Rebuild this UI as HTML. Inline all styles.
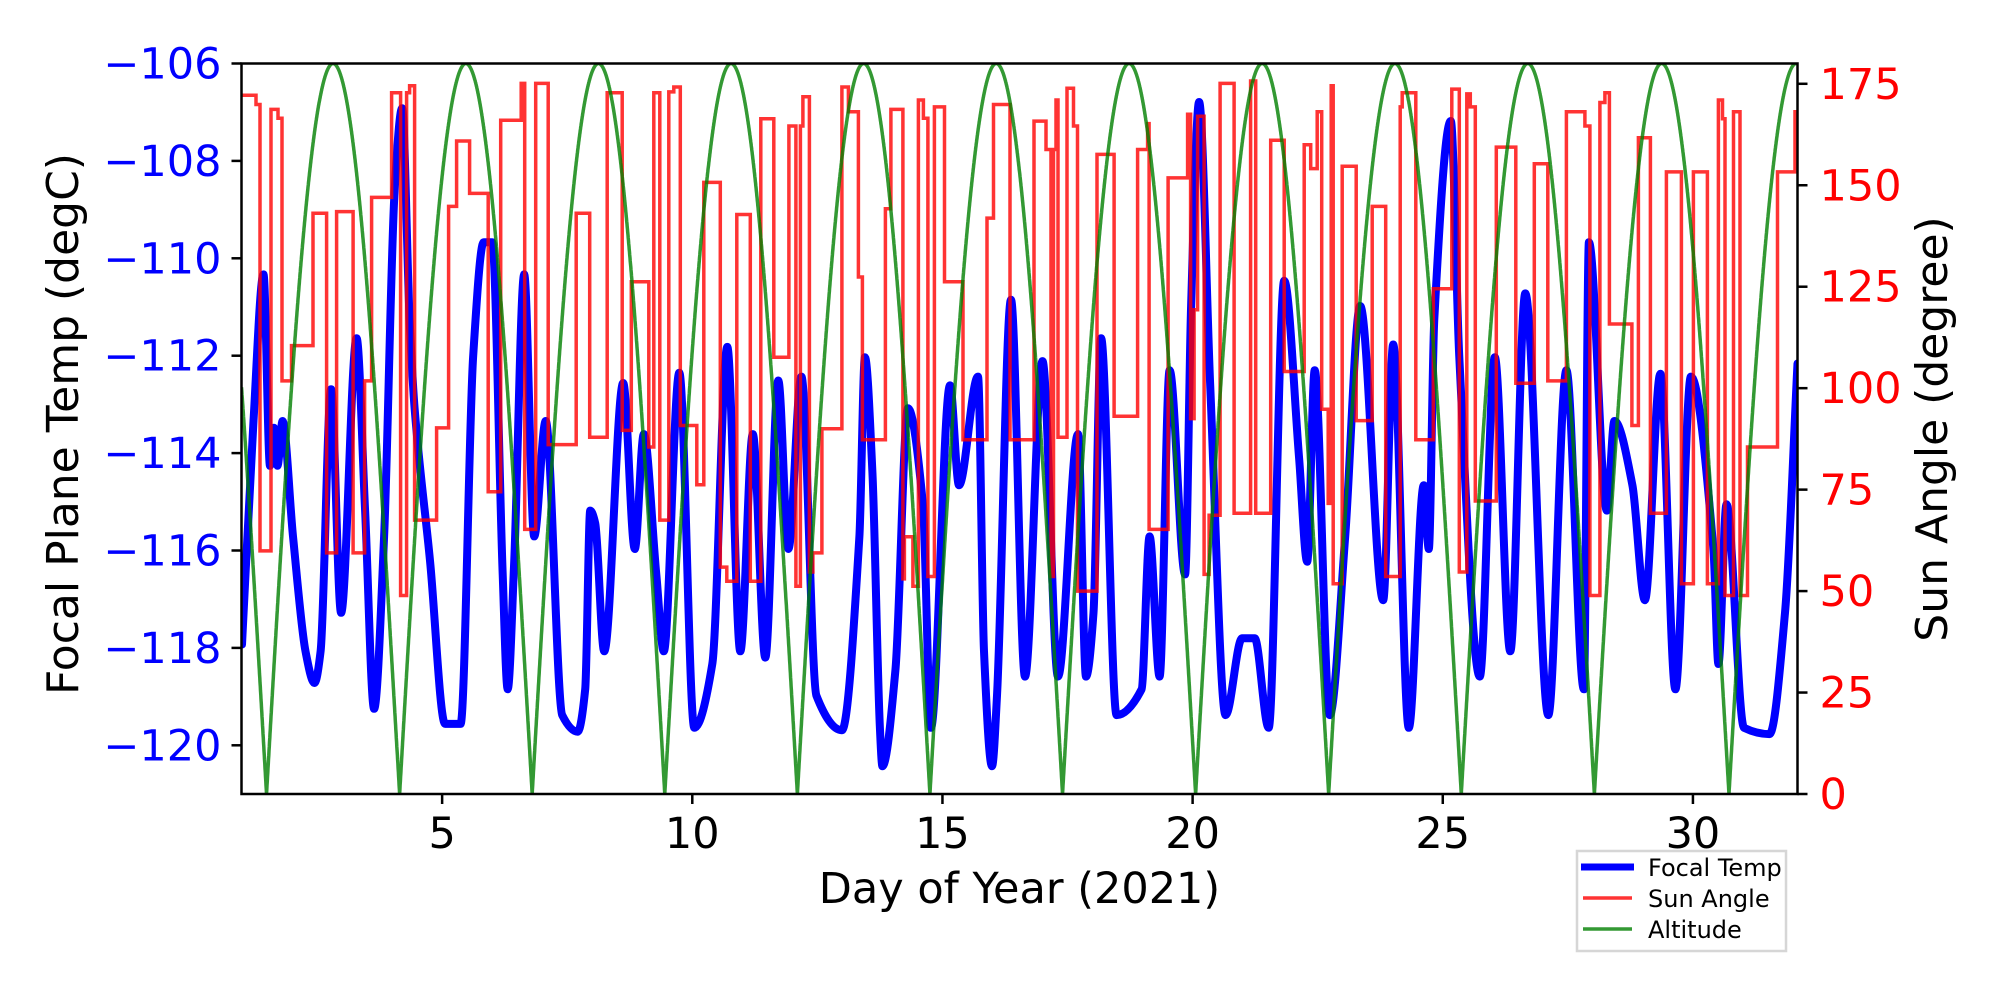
<!DOCTYPE html>
<html><head><meta charset="utf-8"><style>
html,body{margin:0;padding:0;background:#fff;}
svg{display:block;font-family:"DejaVu Sans","Liberation Sans",sans-serif;}
</style></head><body>
<svg id="chart" width="2000" height="1000" viewBox="0 0 2000 1000" xmlns="http://www.w3.org/2000/svg">
<defs><clipPath id="plotclip"><rect x="241.5" y="63.5" width="1556" height="730.5"/></clipPath></defs>
<rect x="0" y="0" width="2000" height="1000" fill="#fff"/>
<g id="series" clip-path="url(#plotclip)"></g>
<rect x="241.5" y="63.5" width="1556" height="730.5" fill="none" stroke="#000" stroke-width="2.5"/>
<g id="axes"></g>
<text x="78" y="424" transform="rotate(-90 78 424)" text-anchor="middle" font-size="44" fill="#000">Focal Plane Temp (degC)</text>
<text x="1947" y="429" transform="rotate(-90 1947 429)" text-anchor="middle" font-size="44" fill="#000">Sun Angle (degree)</text>
<text x="1019.5" y="903" text-anchor="middle" font-size="43" fill="#000">Day of Year (2021)</text>
<g>
<rect x="1577" y="851" width="209" height="100" fill="#fff" stroke="#d6d6d6" stroke-width="2.5"/>
<line x1="1581" y1="867" x2="1634" y2="867" stroke="#0000ff" stroke-width="7"/>
<text x="1648" y="876" font-size="24" fill="#000">Focal Temp</text>
<line x1="1583" y1="898" x2="1632" y2="898" stroke="rgba(255,0,0,0.8)" stroke-width="3.5"/>
<text x="1648" y="907" font-size="24" fill="#000">Sun Angle</text>
<line x1="1583" y1="929" x2="1632" y2="929" stroke="rgba(0,128,0,0.8)" stroke-width="3.5"/>
<text x="1648" y="938" font-size="24" fill="#000">Altitude</text>
</g>
</svg>
<script>
const xTicks=[5,10,15,20,25,30];
const tempTicks=[-106,-108,-110,-112,-114,-116,-118,-120];
const sunTicks=[0,25,50,75,100,125,150,175];
const tempDays=[1.00,1.23,1.43,1.56,1.64,1.71,1.81,2.02,2.27,2.45,2.57,2.78,2.98,3.29,3.46,3.64,3.84,4.05,4.20,4.35,4.45,4.76,5.06,5.37,5.62,5.83,6.00,6.21,6.31,6.44,6.64,6.84,7.07,7.40,7.71,7.86,7.96,8.06,8.24,8.62,8.85,9.03,9.28,9.43,9.74,10.04,10.40,10.70,10.96,11.21,11.46,11.72,11.92,12.18,12.48,12.99,13.34,13.45,13.60,13.75,13.80,14.06,14.31,14.61,14.77,15.15,15.33,15.71,15.83,15.99,16.09,16.37,16.65,17.00,17.31,17.71,17.87,18.02,18.17,18.48,18.98,19.14,19.34,19.54,19.85,19.97,20.13,20.35,20.66,20.99,21.24,21.52,21.83,22.13,22.29,22.44,22.74,23.05,23.35,23.81,24.01,24.32,24.62,24.72,24.83,25.16,25.33,25.74,26.04,26.35,26.65,27.11,27.47,27.82,27.92,28.28,28.43,28.79,29.04,29.35,29.65,29.96,30.41,30.51,30.67,31.02,31.53,31.84,32.09];
const tempVals=[-117.93,-113.34,-110.33,-114.26,-113.48,-114.26,-113.34,-115.71,-118.07,-118.72,-118.07,-112.69,-117.28,-111.64,-115.18,-119.25,-115.71,-108.62,-106.92,-111.25,-113.08,-116.23,-119.56,-119.56,-112.03,-109.67,-109.67,-116.49,-118.85,-116.23,-110.33,-115.71,-113.34,-119.38,-119.72,-118.85,-115.18,-115.44,-118.07,-112.56,-115.97,-113.61,-116.49,-118.07,-112.35,-119.64,-118.33,-111.82,-118.07,-113.61,-118.20,-112.51,-115.97,-112.43,-118.98,-119.69,-115.71,-112.03,-114.39,-119.64,-120.43,-118.46,-113.08,-115.05,-119.64,-112.61,-114.66,-112.43,-118.07,-120.43,-118.98,-110.85,-118.59,-112.11,-118.59,-113.61,-118.59,-117.28,-111.64,-119.38,-118.85,-115.71,-118.59,-112.30,-116.49,-110.98,-106.79,-112.56,-119.38,-117.80,-117.80,-119.64,-110.46,-114.13,-116.23,-112.30,-119.38,-115.71,-110.98,-117.02,-111.77,-119.64,-114.66,-115.97,-111.25,-107.18,-112.03,-118.59,-112.03,-118.07,-110.72,-119.38,-112.30,-118.85,-109.67,-115.18,-113.34,-114.66,-117.02,-112.37,-118.85,-112.43,-115.97,-118.33,-115.05,-119.64,-119.77,-117.28,-112.16];
const sunDays=[1.0,1.28,1.36,1.58,1.72,1.80,1.99,2.42,2.69,2.89,3.22,3.45,3.59,3.99,4.17,4.29,4.35,4.45,4.89,5.13,5.29,5.55,5.92,6.17,6.58,6.65,6.87,7.12,7.68,7.95,8.30,8.60,8.78,9.13,9.23,9.35,9.53,9.63,9.76,10.09,10.23,10.56,10.69,10.89,11.16,11.37,11.63,11.93,12.07,12.16,12.21,12.34,12.41,12.59,12.99,13.12,13.32,13.40,13.86,13.97,14.21,14.24,14.41,14.52,14.62,14.71,14.84,15.04,15.41,15.89,16.02,16.35,16.83,17.07,17.17,17.22,17.27,17.31,17.49,17.62,17.70,18.09,18.43,18.90,19.10,19.13,19.51,19.90,19.96,20.03,20.10,20.23,20.33,20.55,20.83,21.16,21.26,21.56,21.83,22.23,22.36,22.49,22.58,22.71,22.77,22.81,22.99,23.27,23.59,23.86,24.15,24.19,24.46,24.81,25.18,25.33,25.48,25.55,25.65,26.07,26.46,26.83,27.10,27.47,27.84,27.94,28.14,28.24,28.33,28.78,28.91,29.15,29.47,29.77,30.01,30.29,30.51,30.59,30.64,30.81,30.94,31.09,31.69,32.04];
const sunVals=[172.2,169.9,59.9,168.7,166.5,101.8,110.5,143.1,59.4,143.5,59.4,101.8,147,172.8,48.9,172.8,174.5,67.5,90.2,144.8,160.9,148,74.5,166,175.1,65.2,175.1,86.1,143.1,87.9,172.8,89.6,126.2,85.5,172.8,67.5,173,174.2,90.8,76.2,150.7,55.9,52.4,142.8,52.4,166.4,107.6,164.6,51.2,164.6,171.8,54.7,59.4,90,174.2,168.1,127.4,87.3,144.2,168.7,53,63.4,51.2,171,166.5,53.6,169.3,126.2,87.3,141.9,169.9,87.3,165.8,158.8,53.6,158.8,171,87.9,173.9,164.6,50,157.6,93.1,158.8,165.2,65.2,151.8,167.5,92.5,119.3,167,54.1,68.7,175.1,69.2,175.7,69.2,161.1,104.1,160,154.1,168.1,94.8,71.6,174.5,51.8,154.7,92,144.8,53.6,169.3,172.8,87.3,124.5,173.7,54.7,172.5,169.3,72.2,159.4,101.2,155.3,101.8,168.1,164.6,48.9,170.4,172.8,115.8,90.8,161.7,69.2,153.3,51.8,153.3,51.8,171,166.4,48.9,168.1,48.9,85.5,153.3,168.1];
const altMinDays=[1.49,4.15,6.80,9.45,12.10,14.75,17.40,20.06,22.72,25.37,28.03,30.72];
const altPeak=[180];

const X0=241.5,X1=1797.5,Y0=63.5,Y1=794,DMIN=0.99,DMAX=32.09;
function xs(d){return X0+(d-DMIN)/(DMAX-DMIN)*(X1-X0);}
function yT(t){return Y0+(-106-t)/15*(Y1-Y0);}
function yS(v){return Y1-v/180*(Y1-Y0);}
const NS="http://www.w3.org/2000/svg";
const series=document.getElementById('series'),axes=document.getElementById('axes');
function mk(tag,attrs,parent){const e=document.createElementNS(NS,tag);for(const k in attrs)e.setAttribute(k,attrs[k]);parent.appendChild(e);return e;}

// temperature (monotone cubic, no overshoot)
const P=tempDays.map((d,i)=>[xs(d),yT(tempVals[i])]);
const n=P.length,sl=[],m=[];
for(let i=0;i<n-1;i++)sl.push((P[i+1][1]-P[i][1])/(P[i+1][0]-P[i][0]));
for(let i=0;i<n;i++){if(i===0)m.push(sl[0]);else if(i===n-1)m.push(sl[n-2]);else{const a=sl[i-1],b=sl[i];m.push(a*b<=0?0:2/(1/a+1/b));}}
let dT='M'+P[0][0].toFixed(1)+','+P[0][1].toFixed(1);
for(let i=0;i<n-1;i++){const h=(P[i+1][0]-P[i][0])/3;
dT+=' C'+(P[i][0]+h).toFixed(1)+','+(P[i][1]+m[i]*h).toFixed(1)+' '+(P[i+1][0]-h).toFixed(1)+','+(P[i+1][1]-m[i+1]*h).toFixed(1)+' '+P[i+1][0].toFixed(1)+','+P[i+1][1].toFixed(1);}
const tl=mk('path',{d:dT,fill:'none',stroke:'#0000ff','stroke-width':8,'stroke-linejoin':'round','stroke-linecap':'round'},series);



// sun angle step
let dS='';
for(let i=0;i<sunDays.length;i++){const x=xs(sunDays[i]),y=yS(sunVals[i]);const xn=i<sunDays.length-1?xs(sunDays[i+1]):X1+5;
dS+=(i===0?'M':'L')+x.toFixed(1)+','+y.toFixed(1)+' L'+xn.toFixed(1)+','+y.toFixed(1)+' ';}
const sline=mk('path',{d:dS,fill:'none',stroke:'rgba(255,0,0,0.8)','stroke-width':3.5,'stroke-linejoin':'miter'},series);



// altitude arches between minima
function alt(t){const mm=altMinDays;let a,b;
if(t<mm[0]){b=mm[0];a=mm[0]-(mm[1]-mm[0]);}else if(t>=mm[mm.length-1]){a=mm[mm.length-1];b=a+(a-mm[mm.length-2]);}
else{for(let i=0;i<mm.length-1;i++){if(t>=mm[i]&&t<mm[i+1]){a=mm[i];b=mm[i+1];break;}}}
return altPeak[0]*Math.abs(Math.sin(Math.PI*(t-a)/(b-a)));}
let dA='';
const pts=[];for(let t=DMIN;t<=DMAX+0.001;t+=0.005)pts.push(t);altMinDays.forEach(v=>pts.push(v));pts.sort((a,b)=>a-b);
pts.forEach((t,i)=>{dA+=(i===0?'M':'L')+xs(t).toFixed(1)+','+yS(alt(t)).toFixed(1)+' ';});
const al=mk('path',{d:dA,fill:'none',stroke:'rgba(0,128,0,0.8)','stroke-width':3.5,'stroke-linejoin':'round'},series);



// axes ticks
xTicks.forEach(v=>{const x=xs(v);
const l=mk('line',{x1:x,y1:Y1,x2:x,y2:Y1+10,stroke:'#000','stroke-width':2.5},axes);


const t=mk('text',{x:x,y:Y1+54,'text-anchor':'middle','font-size':43,fill:'#000'},axes);t.textContent=v;

});
tempTicks.forEach(v=>{const y=yT(v);
const l=mk('line',{x1:X0-10,y1:y,x2:X0,y2:y,stroke:'#000','stroke-width':2.5},axes);


const t=mk('text',{x:X0-20,y:y+15,'text-anchor':'end','font-size':43,fill:'#0000ff'},axes);t.textContent='\u2212'+Math.abs(v);

});
sunTicks.forEach(v=>{const y=yS(v);
const l=mk('line',{x1:X1,y1:y,x2:X1+10,y2:y,stroke:'#000','stroke-width':2.5},axes);


const t=mk('text',{x:X1+22,y:y+15,'text-anchor':'start','font-size':43,fill:'#ff0000'},axes);t.textContent=v;

});
</script>
</body></html>
